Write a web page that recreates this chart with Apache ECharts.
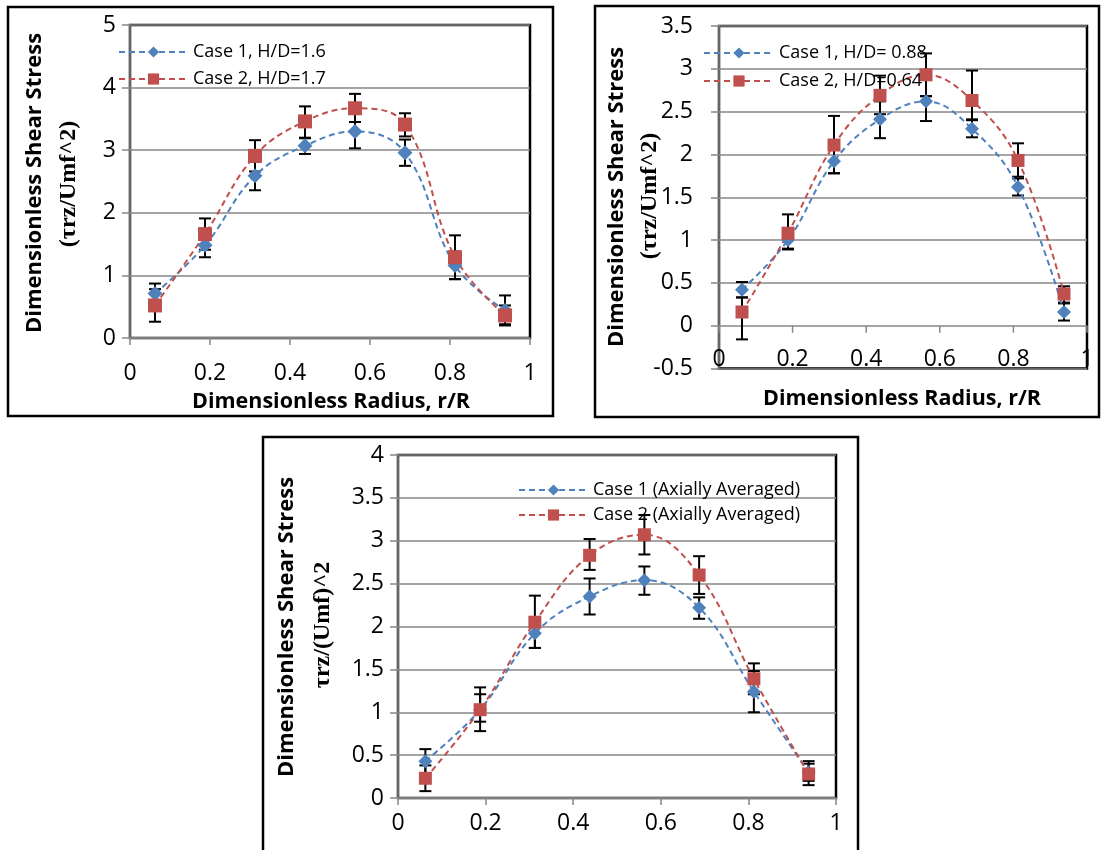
<!DOCTYPE html>
<html>
<head>
<meta charset="utf-8">
<script src="https://cdn.jsdelivr.net/npm/echarts@6/dist/echarts.min.js"></script>
<style>html,body{margin:0;padding:0;background:#fff}#c{width:1101px;height:850px}</style>
</head>
<body>
<div id="c"></div>
<script>
// ---- data ----
const radius = [0.0625, 0.1875, 0.3125, 0.4375, 0.5625, 0.6875, 0.8125, 0.9375];
const xTicks = [0, 0.2, 0.4, 0.6, 0.8, 1];

const p1Names = ['Case 1, H/D=1.6', 'Case 2, H/D=1.7'];
const p1Case1 = [0.71, 1.48, 2.59, 3.07, 3.30, 2.96, 1.16, 0.44];
const p1Case1Lo = [0.55, 1.29, 2.36, 2.94, 3.03, 2.75, 0.94, 0.22];
const p1Case1Hi = [0.87, 1.68, 2.82, 3.20, 3.45, 3.17, 1.38, 0.68];
const p1Case2 = [0.52, 1.66, 2.91, 3.46, 3.67, 3.41, 1.29, 0.36];
const p1Case2Lo = [0.26, 1.41, 2.66, 3.19, 3.45, 3.22, 0.94, 0.20];
const p1Case2Hi = [0.78, 1.91, 3.16, 3.70, 3.90, 3.59, 1.64, 0.52];

const p2Names = ['Case 1, H/D= 0.88', 'Case 2, H/D=0.64'];
const p2Case1 = [0.42, 1.00, 1.92, 2.41, 2.62, 2.30, 1.62, 0.16];
const p2Case1Lo = [0.33, 0.89, 1.78, 2.19, 2.39, 2.20, 1.52, 0.06];
const p2Case1Hi = [0.51, 1.11, 2.06, 2.62, 2.68, 2.40, 1.72, 0.27];
const p2Case2 = [0.16, 1.08, 2.11, 2.69, 2.93, 2.63, 1.93, 0.37];
const p2Case2Lo = [-0.16, 0.90, 1.78, 2.47, 2.68, 2.41, 1.74, 0.26];
const p2Case2Hi = [0.33, 1.30, 2.45, 2.92, 3.18, 2.98, 2.13, 0.46];

const p3Names = ['Case 1 (Axially Averaged)', 'Case 2 (Axially Averaged)'];
const p3Case1 = [0.43, 1.03, 1.92, 2.35, 2.54, 2.22, 1.24, 0.30];
const p3Case1Lo = [0.29, 0.89, 1.75, 2.14, 2.37, 2.09, 1.00, 0.20];
const p3Case1Hi = [0.57, 1.21, 2.09, 2.56, 2.70, 2.34, 1.48, 0.40];
const p3Case2 = [0.23, 1.03, 2.05, 2.83, 3.07, 2.60, 1.39, 0.28];
const p3Case2Lo = [0.08, 0.78, 1.75, 2.66, 2.84, 2.38, 1.21, 0.15];
const p3Case2Hi = [0.38, 1.29, 2.36, 3.02, 3.30, 2.82, 1.57, 0.43];

const yTitle1 = 'Dimensionless Shear Stress';
const yTitle2a = '(\u03c4rz/Umf^2)';
const yTitle2b = '\u03c4rz/(Umf)^2';
const xTitle = 'Dimensionless Radius, r/R';

// ---- helpers ----
const BLUE = '#4F81BD', RED = '#C0504D', GRID = '#878787';
const FONT = '"Open Sans", "Noto Sans", sans-serif';
const pairs = (ys) => radius.map((x, i) => [x, ys[i]]);
const errs = (lo, hi) => radius.map((x, i) => [x, lo[i], hi[i]]);

function renderErr(params, api) {
  const x = api.value(0), lo = api.value(1), hi = api.value(2);
  const a = api.coord([x, lo]), b = api.coord([x, hi]);
  const w = 6, st = {stroke: '#000', lineWidth: 2};
  return {type: 'group', children: [
    {type: 'line', shape: {x1: a[0], y1: a[1], x2: b[0], y2: b[1]}, style: st},
    {type: 'line', shape: {x1: a[0] - w, y1: a[1], x2: a[0] + w, y2: a[1]}, style: st},
    {type: 'line', shape: {x1: b[0] - w, y1: b[1], x2: b[0] + w, y2: b[1]}, style: st}
  ]};
}
// tick marks hanging from the y=0 line (panel 2, x axis crosses at zero)
function renderZeroTick(params, api) {
  const p = api.coord([api.value(0), api.value(1)]);
  return {type: 'line', shape: {x1: p[0], y1: p[1], x2: p[0], y2: p[1] + 7},
    style: {stroke: GRID, lineWidth: 1.5}};
}

function lineSeries(name, idx, ys, color, symbol, size) {
  return {
    type: 'line', name, xAxisIndex: idx, yAxisIndex: idx, data: pairs(ys),
    smooth: 0.4, symbol, symbolSize: size, showSymbol: true, z: 3,
    lineStyle: {color, width: 2, type: [6, 4]},
    itemStyle: {color}, animation: false
  };
}
function errSeries(idx, lo, hi) {
  return {type: 'custom', xAxisIndex: idx, yAxisIndex: idx, data: errs(lo, hi),
    renderItem: renderErr, encode: {x: 0, y: [1, 2]}, z: 2, silent: true, animation: false};
}
function xAxisCfg(idx, margin, showLine) {
  return {type: 'value', gridIndex: idx, min: 0, max: 1, interval: 0.2,
    axisLine: {show: showLine, onZero: false, lineStyle: {color: GRID, width: 1.5}},
    axisTick: {show: showLine, inside: false, length: 7, lineStyle: {color: GRID, width: 1.5}},
    splitLine: {show: false},
    axisLabel: {color: '#000', fontSize: 23, fontFamily: FONT, margin,
      formatter: (v) => String(+v.toFixed(1))}};
}
function yAxisCfg(idx, min, max, interval, margin) {
  return {type: 'value', gridIndex: idx, min, max, interval,
    axisLine: {show: true, lineStyle: {color: GRID, width: 1.5}},
    axisTick: {show: true, inside: false, length: 8, lineStyle: {color: GRID, width: 1.5}},
    splitLine: {show: true, lineStyle: {color: GRID, width: 1.5}},
    axisLabel: {color: '#000', fontSize: 23, fontFamily: FONT, margin,
      formatter: (v) => String(+v.toFixed(1))}};
}
function legendCfg(names, left, top, iw, gap) {
  return {data: names, orient: 'vertical', left, top, itemWidth: iw, itemHeight: 14, itemGap: gap,
    textStyle: {color: '#000', fontSize: 18, fontFamily: FONT, lineHeight: 22}};
}
function vText(x, y, text, font) {
  return {type: 'text', x, y, rotation: Math.PI / 2,
    style: {text, font, fill: '#000', align: 'center', verticalAlign: 'middle'}};
}
function hText(x, y, text, font) {
  return {type: 'text', x, y,
    style: {text, font, fill: '#000', align: 'center', verticalAlign: 'middle'}};
}
function box(x, y, w, h) {
  return {type: 'rect', shape: {x, y, width: w, height: h},
    style: {fill: 'none', stroke: '#000', lineWidth: 2.5}};
}

const YT = 'bold 22px ' + FONT;
const XT = 'bold 21.5px ' + FONT;
const SERIFB = 'bold 24px "Liberation Serif", "DejaVu Serif", serif';

const chart = echarts.init(document.getElementById('c'), null, {renderer: 'canvas'});
chart.setOption({
  backgroundColor: '#fff',
  animation: false,
  grid: [
    {left: 130, top: 25, width: 400, height: 313, show: true, borderColor: '#000', borderWidth: 2.5, backgroundColor: '#fff'},
    {left: 719, top: 26, width: 368, height: 342.5, show: true, borderColor: '#000', borderWidth: 2.5, backgroundColor: '#fff'},
    {left: 398, top: 455, width: 438, height: 343, show: true, borderColor: '#000', borderWidth: 2.5, backgroundColor: '#fff'}
  ],
  xAxis: [xAxisCfg(0, 24, true), xAxisCfg(1, -21, false), xAxisCfg(2, 14, true)],
  yAxis: [yAxisCfg(0, 0, 5, 1, 14), yAxisCfg(1, -0.5, 3.5, 0.5, 26), yAxisCfg(2, 0, 4, 0.5, 14)],
  legend: [
    legendCfg(p1Names, 113, 36, 69, 5),
    legendCfg(p2Names, 698, 37, 70, 6),
    legendCfg(p3Names, 513, 474, 69, 3)
  ],
  graphic: [
    box(8, 7, 545, 409),
    box(595, 6, 504, 411),
    box(263, 437, 595, 425),
    vText(35, 183, yTitle1, YT),
    vText(69, 184, yTitle2a, SERIFB),
    hText(331, 402, xTitle, XT),
    vText(617, 197, yTitle1, YT),
    vText(650, 196, yTitle2a, SERIFB),
    hText(902, 399, xTitle, XT),
    vText(287, 627, yTitle1, YT),
    vText(323, 625, yTitle2b, SERIFB)
  ],
  series: [
    errSeries(0, p1Case1Lo, p1Case1Hi),
    errSeries(0, p1Case2Lo, p1Case2Hi),
    lineSeries(p1Names[0], 0, p1Case1, BLUE, 'diamond', 15),
    lineSeries(p1Names[1], 0, p1Case2, RED, 'rect', 14),
    {type: 'custom', xAxisIndex: 1, yAxisIndex: 1, data: xTicks.map((x) => [x, 0]),
      renderItem: renderZeroTick, encode: {x: 0, y: 1}, z: 1, silent: true, animation: false},
    errSeries(1, p2Case1Lo, p2Case1Hi),
    errSeries(1, p2Case2Lo, p2Case2Hi),
    lineSeries(p2Names[0], 1, p2Case1, BLUE, 'diamond', 14),
    lineSeries(p2Names[1], 1, p2Case2, RED, 'rect', 13),
    errSeries(2, p3Case1Lo, p3Case1Hi),
    errSeries(2, p3Case2Lo, p3Case2Hi),
    lineSeries(p3Names[0], 2, p3Case1, BLUE, 'diamond', 14),
    lineSeries(p3Names[1], 2, p3Case2, RED, 'rect', 13)
  ]
});
</script>
</body>
</html>
